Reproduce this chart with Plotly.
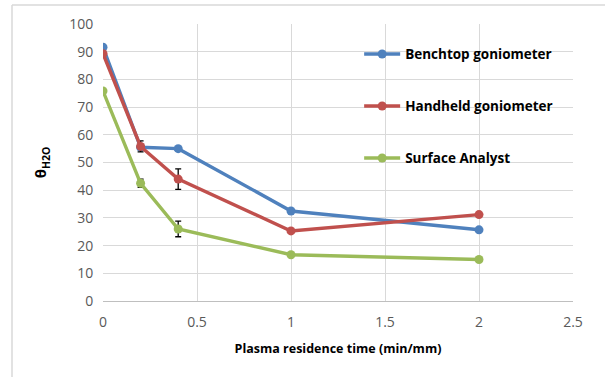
import plotly.graph_objects as go

x_vals = [0, 0.2, 0.4, 1, 2]
benchtop = [91.6, 55.5, 55.0, 32.5, 25.7]
handheld = [89.3, 55.8, 44.0, 25.3, 31.2]
surface = [75.8, 42.5, 26.0, 16.7, 15.0]
handheld_err = [0, 2.0, 3.7, 0, 0]
surface_err = [0, 1.5, 2.8, 0, 0]
series_names = ["Benchtop goniometer", "Handheld goniometer", "Surface Analyst"]
x_ticks = [0, 0.5, 1, 1.5, 2, 2.5]
y_ticks = [0, 10, 20, 30, 40, 50, 60, 70, 80, 90, 100]

colors = ["#4F81BD", "#C0504D", "#9BBB59"]

fig = go.Figure()
series = [benchtop, handheld, surface]
errs = [None, handheld_err, surface_err]
for i, (name, ys, err, c) in enumerate(zip(series_names, series, errs, colors)):
    kw = {}
    if err is not None:
        kw["error_y"] = dict(type="data", array=err, visible=True, color="#000000", thickness=1.3, width=3)
    fig.add_trace(go.Scatter(
        x=x_vals, y=ys, name=name, mode="lines+markers",
        line=dict(color=c, width=3.4),
        marker=dict(color=c, size=9),
        legendgroup=f"g{i}",
        **kw,
    ))

fig.update_layout(
    width=605, height=377,
    margin=dict(l=103, r=32, t=24, b=76),
    paper_bgcolor="white", plot_bgcolor="white",
    font=dict(family="Open Sans, Liberation Sans, sans-serif", color="#595959", size=14),
    showlegend=True,
    legend=dict(
        x=0.545, y=0.947, xanchor="left", yanchor="top",
        bgcolor="rgba(255,255,255,0)",
        font=dict(size=13.5, color="#000000", family="Open Sans, sans-serif", weight="bold"),
        tracegroupgap=31.5, itemwidth=36,
    ),
    xaxis=dict(
        range=[0, 2.5], tickvals=x_ticks, ticktext=[str(t) for t in x_ticks],
        showgrid=True, gridcolor="#D9D9D9", gridwidth=1,
        zeroline=False, showline=True, linecolor="#BFBFBF", linewidth=1,
        ticks="outside", ticklen=8, tickcolor="rgba(0,0,0,0)",
        tickfont=dict(size=14, color="#595959"),
        title=dict(text="Plasma residence time (min/mm)", standoff=14,
                   font=dict(size=12.5, color="#000000", weight="bold")),
    ),
    yaxis=dict(
        range=[0, 100], tickvals=y_ticks,
        showgrid=True, gridcolor="#D9D9D9", gridwidth=1,
        zeroline=False, showline=False,
        ticks="outside", ticklen=6, tickcolor="rgba(0,0,0,0)",
        tickfont=dict(size=14, color="#595959"),
        title=dict(text="θ<sub>H2O</sub>", standoff=18,
                   font=dict(size=15, color="#000000", weight="bold")),
    ),
    shapes=[
        dict(type="line", xref="paper", yref="paper",
             x0=(12 - 103) / 470, x1=(620 - 103) / 470,
             y0=(301 - 5) / 277, y1=(301 - 5) / 277,
             line=dict(color="#D9D9D9", width=1.5)),
        dict(type="line", xref="paper", yref="paper",
             x0=(12 - 103) / 470, x1=(12 - 103) / 470,
             y0=(301 - 5) / 277, y1=(301 - 390) / 277,
             line=dict(color="#D9D9D9", width=1.5)),
    ],
)

fig.write_html("out.html")
